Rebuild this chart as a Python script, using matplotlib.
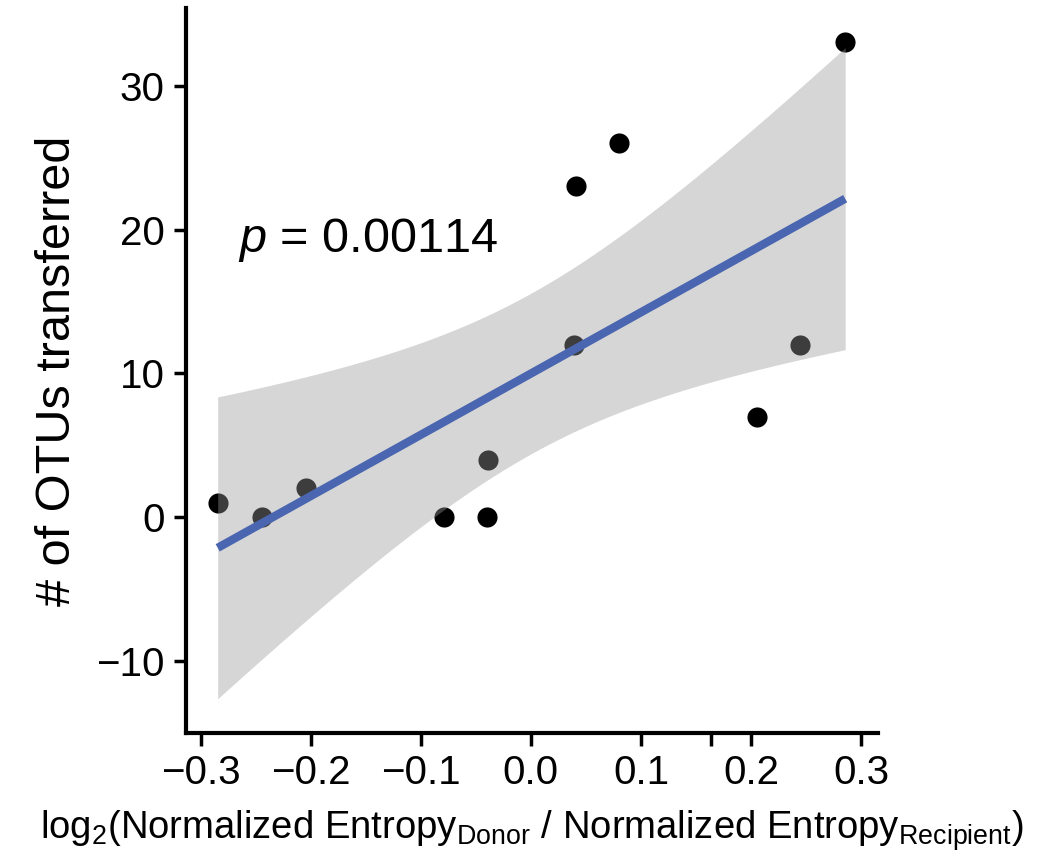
import numpy as np
import matplotlib
matplotlib.use("Agg")
import matplotlib.pyplot as plt

plt.rcParams["font.family"] = ["Liberation Sans", "DejaVu Sans"]
plt.rcParams["mathtext.fontset"] = "custom"
plt.rcParams["mathtext.rm"] = "Liberation Sans"
plt.rcParams["mathtext.it"] = "Liberation Sans:italic"

# log2 entropy ratio vs number of OTUs transferred
entropy_ratio = [-0.2845, -0.2445, -0.2045, -0.079, -0.040, -0.039,
                 0.041, 0.039, 0.080, 0.2055, 0.2445, 0.2855]
otus_transferred = [1, 0, 2, 0, 0, 4, 23, 12, 26, 7, 12, 33]
p_label = "0.00114"
x_ticks = [-0.3, -0.2, -0.1, 0.0, 0.1, 0.2, 0.3]
y_ticks = [-10, 0, 10, 20, 30]

T_975_DF10 = 2.228  # t quantile for 95% CI, n - 2 = 10


def linear_fit_ci(x, y, grid):
    x = np.asarray(x, float)
    y = np.asarray(y, float)
    slope, icpt = np.polyfit(x, y, 1)
    resid = y - (slope * x + icpt)
    s = np.sqrt(np.sum(resid ** 2) / (len(x) - 2))
    sxx = np.sum((x - x.mean()) ** 2)
    fit = slope * grid + icpt
    se = s * np.sqrt(1 / len(x) + (grid - x.mean()) ** 2 / sxx)
    return fit, fit - T_975_DF10 * se, fit + T_975_DF10 * se


def main():
    fig = plt.figure(figsize=(10.43, 8.57), dpi=100)
    ax = fig.add_axes([0.178, 0.1447, 0.664, 0.846])

    ax.scatter(entropy_ratio, otus_transferred, s=210, color="black",
               linewidths=0, zorder=2)

    grid = np.linspace(min(entropy_ratio), max(entropy_ratio), 200)
    fit, lo, hi = linear_fit_ci(entropy_ratio, otus_transferred, grid)
    ax.fill_between(grid, lo, hi, color="#999999", alpha=0.4, linewidth=0, zorder=3)
    ax.plot(grid, fit, color="#4A66B0", linewidth=6, solid_capstyle="butt", zorder=4)

    ax.text(-0.266, 19.3, r"$p$ = " + p_label, fontsize=35, va="center", ha="left")

    ax.set_xlim(-0.3136, 0.3155)
    ax.set_ylim(-15.0, 35.4)
    ax.set_xticks(x_ticks)
    ax.set_xticklabels([f"{v:.1f}".replace("-", "\u2212") for v in x_ticks])
    ax.set_yticks(y_ticks)
    ax.set_yticklabels([str(v).replace("-", "\u2212") for v in y_ticks])
    ax.set_xticks([0.164], minor=True)

    ax.set_ylabel("# of OTUs transferred", fontsize=35, labelpad=12)
    ax.set_xlabel(r"log$_2$(Normalized Entropy$_{\mathrm{Donor}}$ / "
                  r"Normalized Entropy$_{\mathrm{Recipient}}$)",
                  fontsize=27.5, labelpad=12)

    for side in ("top", "right"):
        ax.spines[side].set_visible(False)
    for side in ("left", "bottom"):
        ax.spines[side].set_linewidth(3)
    ax.tick_params(axis="both", which="both", length=9, width=2.5,
                   labelsize=29, pad=6, color="black")

    fig.savefig("out.png", dpi=100)
    plt.close()


if __name__ == "__main__":
    main()
